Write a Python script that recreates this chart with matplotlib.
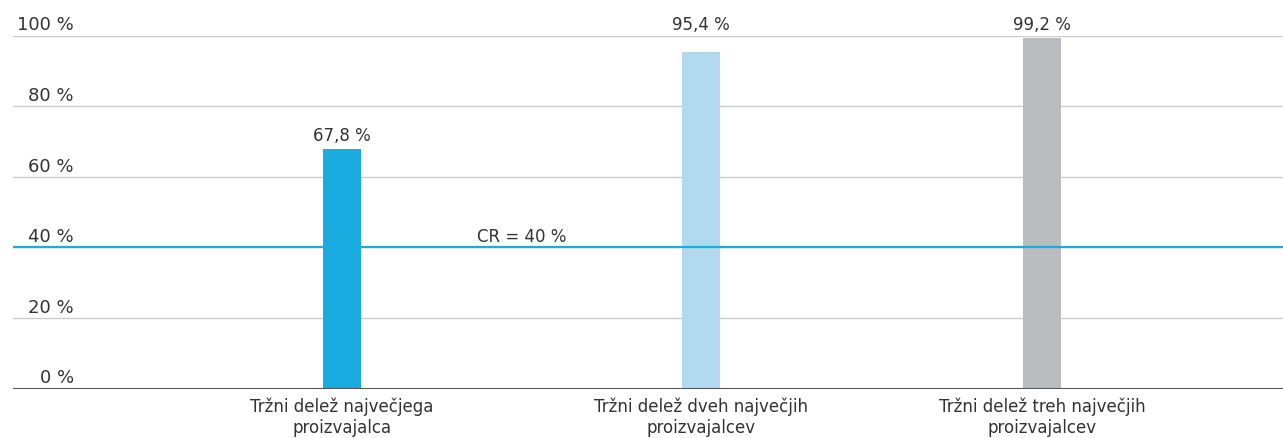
import matplotlib
matplotlib.use('Agg')
import matplotlib.pyplot as plt

# chart data
categories = ['Tržni delež največjega\nproizvajalca',
              'Tržni delež dveh največjih\nproizvajalcev',
              'Tržni delež treh največjih\nproizvajalcev']
shares = [67.8, 95.4, 99.2]
value_labels = ['67,8 %', '95,4 %', '99,2 %']
cr_level = 40
cr_label = 'CR = 40 %'
y_ticks = [0, 20, 40, 60, 80, 100]
y_tick_labels = ['0 %', '20 %', '40 %', '60 %', '80 %', '100 %']

bar_colors = ['#1aabe0', '#b3d9f1', '#bbbcc0']
positions = [0.0, 1.0, 1.95]
text_color = '#333333'

plt.rcParams['font.family'] = ['DejaVu Sans']

fig = plt.figure(figsize=(12.83, 4.39), dpi=100)
ax = fig.add_axes([13 / 1283, 49.5 / 439, 1270 / 1283, 353 / 439])

# gridlines
for t in y_ticks[1:]:
    ax.axhline(t, color='#cccccc', lw=1, zorder=1)
ax.axhline(0, color='#555555', lw=1.5, zorder=3)

ax.bar(positions, shares, width=0.106, color=bar_colors, zorder=2)

# CR line
ax.axhline(cr_level, color='#1aabe0', lw=1.6, zorder=2)
ax.annotate(cr_label, (0.5, cr_level), xytext=(0, 2), textcoords='offset points',
            ha='center', va='bottom', fontsize=12, color=text_color)

# values above bars; labels of tall bars share one row above the top gridline
top_row = max(shares)
for x, v, lab in zip(positions, shares, value_labels):
    y = top_row if v > 90 else v
    ax.annotate(lab, (x, y), xytext=(0, 4), textcoords='offset points',
                ha='center', va='bottom', fontsize=12, color=text_color)

# y labels sit above the gridlines
for t, lab in zip(y_ticks, y_tick_labels):
    ax.annotate(lab, (0.048, t), xycoords=ax.get_yaxis_transform(),
                xytext=(0, 1.5), textcoords='offset points',
                ha='right', va='bottom', fontsize=13, color=text_color)

ax.set_xlim(-0.916, 2.621)
ax.set_ylim(0, 100)
ax.set_yticks([])
ax.set_xticks(positions)
ax.set_xticklabels(categories, fontsize=12, color=text_color, linespacing=1.22)
ax.tick_params(axis='x', length=0, pad=5.5)
for s in ax.spines.values():
    s.set_visible(False)

fig.savefig('out.png', dpi=100)
